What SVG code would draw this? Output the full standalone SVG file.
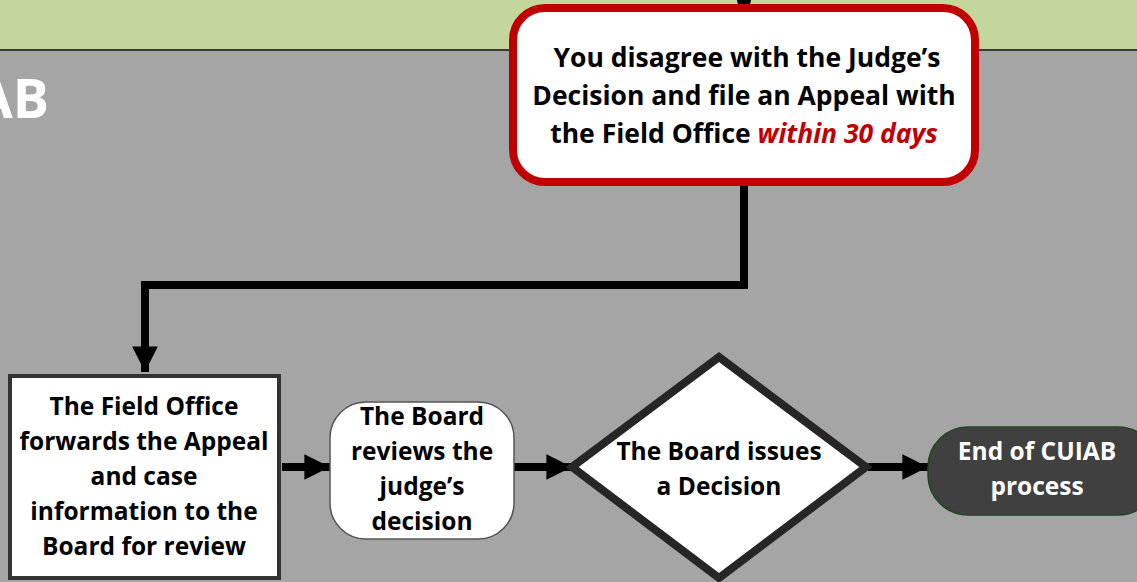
<svg xmlns="http://www.w3.org/2000/svg" width="1137" height="582" viewBox="0 0 1137 582">
<defs>
<style>
.t{font-family:"Open Sans",Lato,"Liberation Sans",sans-serif;font-weight:700;text-anchor:middle;fill:#000;font-size:24.5px}
.r{font-size:26.5px}
.w{fill:#fff}
.con{fill:none;stroke:#000;stroke-width:8}
</style>
<marker id="ah" viewBox="0 0 10 10" refX="10" refY="5" markerWidth="3.2" markerHeight="3.2" markerUnits="strokeWidth" orient="auto">
<path d="M0,0 L10,5 L0,10 Z" fill="#000"/>
</marker>
</defs>
<rect x="0" y="0" width="1137" height="50" fill="#C3D69B"/>
<rect x="0" y="50" width="1137" height="532" fill="#A5A5A5"/>
<line x1="0" y1="50" x2="1137" y2="50" stroke="#3a3a3a" stroke-width="2"/>
<text x="49" y="118" style="font-family:'Open Sans',Lato,sans-serif;font-weight:700;font-size:54px;fill:#fff;text-anchor:end">AB</text>
<g id="connectors">
<circle cx="744" cy="0" r="7" fill="#000"/>
<path class="con" d="M744,183 V285 H145 V372" marker-end="url(#ah)"/>
<path class="con" d="M282,467 H330" marker-end="url(#ah)"/>
<path class="con" d="M514,467 H572" marker-end="url(#ah)"/>
<path class="con" d="M868,467 H928" marker-end="url(#ah)"/>
</g>
<g id="appeal">
<rect x="513" y="8" width="462" height="174" rx="32" fill="#fff" stroke="#C00000" stroke-width="8"/>
<text class="t r" x="747" y="67">You disagree with the Judge’s</text>
<text class="t r" x="744" y="105">Decision and file an Appeal with</text>
<text class="t r" x="744" y="143">the Field Office <tspan fill="#C00000" font-style="italic">within 30 days</tspan></text>
</g>
<g id="forward">
<rect x="10" y="376" width="269" height="202" fill="#fff" stroke="#333" stroke-width="4"/>
<text class="t" x="144" y="415">The Field Office</text>
<text class="t" x="144" y="450">forwards the Appeal</text>
<text class="t" x="144" y="485">and case</text>
<text class="t" x="144" y="520">information to the</text>
<text class="t" x="144" y="555">Board for review</text>
</g>
<g id="review">
<rect x="330" y="402" width="184" height="137" rx="36" fill="#fff" stroke="#555" stroke-width="1.5"/>
<text class="t" x="422" y="425">The Board</text>
<text class="t" x="422" y="460">reviews the</text>
<text class="t" x="422" y="495">judge’s</text>
<text class="t" x="422" y="530">decision</text>
</g>
<g id="decision">
<polygon points="719,357 866,467 719,578 572,467" fill="#fff" stroke="#262626" stroke-width="8" stroke-linejoin="miter"/>
<text class="t" x="719" y="460">The Board issues</text>
<text class="t" x="719" y="495">a Decision</text>
</g>
<g id="end">
<rect x="928" y="427" width="230" height="88" rx="40" fill="#404040" stroke="#1E4620" stroke-width="1.5"/>
<text class="t w" x="1037" y="460">End of CUIAB</text>
<text class="t w" x="1037" y="495">process</text>
</g>
</svg>
